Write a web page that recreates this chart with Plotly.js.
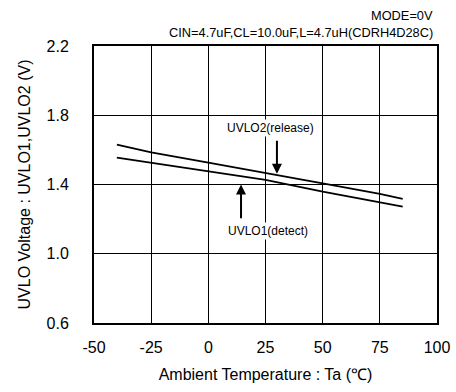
<!DOCTYPE html>
<html>
<head>
<meta charset="utf-8">
<script src="https://cdn.plot.ly/plotly-3.0.1.min.js"></script>
<style>html,body{margin:0;padding:0;background:#fff;}#chart{width:456px;height:392px;}</style>
</head>
<body>
<div id="chart"></div>
<script>
const temps = [-40, -25, 0, 25, 50, 75, 85];
const uvlo2Release = [1.630, 1.586, 1.526, 1.464, 1.406, 1.346, 1.317];
const uvlo1Detect = [1.555, 1.526, 1.479, 1.427, 1.359, 1.297, 1.272];
const xTicks = [-50, -25, 0, 25, 50, 75, 100];
const yTicks = [0.6, 1.0, 1.4, 1.8, 2.2];
const yTickText = ['0.6', '1.0', '1.4', '1.8', '2.2'];

const FONT = 'Liberation Sans, Arial, sans-serif';

const traces = [
  {x: temps, y: uvlo2Release, mode: 'lines', line: {color: '#000', width: 1.8}, showlegend: false, hoverinfo: 'skip'},
  {x: temps, y: uvlo1Detect, mode: 'lines', line: {color: '#000', width: 1.8}, showlegend: false, hoverinfo: 'skip'}
];

const layout = {
  width: 456, height: 392,
  margin: {l: 94, r: 19, t: 46, b: 69},
  paper_bgcolor: '#fff', plot_bgcolor: '#fff',
  font: {family: FONT, color: '#000', size: 14},
  xaxis: {
    range: [-50, 100], tickvals: xTicks, ticktext: xTicks.map(String),
    showgrid: true, gridcolor: '#000', gridwidth: 1, zeroline: false,
    showline: true, linecolor: '#000', linewidth: 2, mirror: true,
    ticks: 'outside', ticklen: 9, tickcolor: 'rgba(0,0,0,0)',
    tickfont: {size: 16, family: FONT},
    title: {text: 'Ambient Temperature : Ta (℃)', font: {size: 16, family: FONT}, standoff: 14}
  },
  yaxis: {
    range: [0.6, 2.2], tickvals: yTicks, ticktext: yTickText,
    showgrid: true, gridcolor: '#000', gridwidth: 1, zeroline: false,
    showline: true, linecolor: '#000', linewidth: 2, mirror: true,
    ticks: 'outside', ticklen: 20, tickcolor: 'rgba(0,0,0,0)',
    tickfont: {size: 16, family: FONT},
    title: {text: 'UVLO Voltage : UVLO1,UVLO2 (V)', font: {size: 16, family: FONT}, standoff: 12}
  },
  annotations: [
    {xref: 'paper', yref: 'paper', x: 0.995, y: 1.11, xanchor: 'right', yanchor: 'middle', text: 'MODE=0V', showarrow: false, font: {size: 12.8, family: FONT}},
    {xref: 'paper', yref: 'paper', x: 0.995, y: 1.047, xanchor: 'right', yanchor: 'middle', text: 'CIN=4.7uF,CL=10.0uF,L=4.7uH(CDRH4D28C)', showarrow: false, font: {size: 12.8, family: FONT}},
    {x: 27.3, y: 1.729, text: 'UVLO2(release)', showarrow: false, bgcolor: '#fff', font: {size: 12, family: FONT}, borderpad: 1},
    {x: 26.2, y: 1.129, text: 'UVLO1(detect)', showarrow: false, bgcolor: '#fff', font: {size: 12, family: FONT}, borderpad: 1},
    {x: 30, y: 1.462, ax: 30, ay: 1.661, axref: 'x', ayref: 'y', text: '', showarrow: true, arrowhead: 2, arrowsize: 1, arrowwidth: 2, arrowcolor: '#000'},
    {x: 14.3, y: 1.40, ax: 14.3, ay: 1.197, axref: 'x', ayref: 'y', text: '', showarrow: true, arrowhead: 2, arrowsize: 1, arrowwidth: 2, arrowcolor: '#000'}
  ]
};

Plotly.newPlot('chart', traces, layout, {staticPlot: true, displayModeBar: false});
</script>
</body>
</html>
